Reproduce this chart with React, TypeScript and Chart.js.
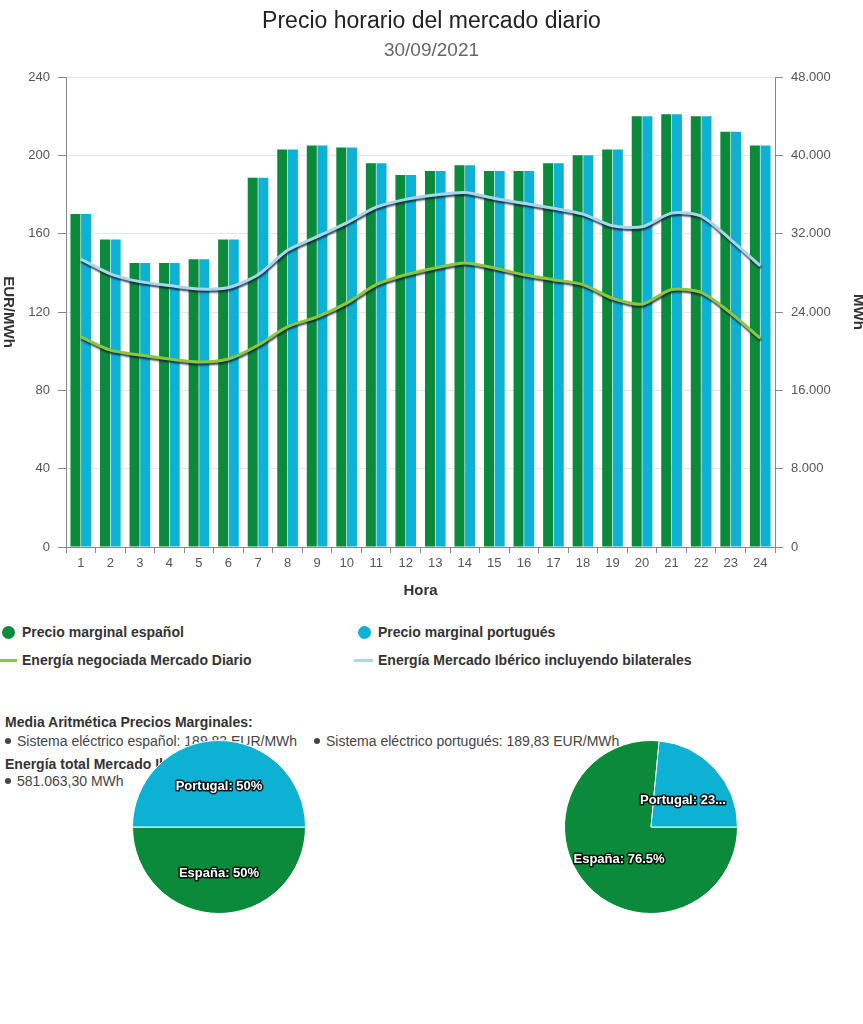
import React, { useEffect, useRef } from "react";
import { Chart, registerables } from "chart.js";

Chart.register(...registerables);

const FONT = "'Liberation Sans', Arial, Helvetica, sans-serif";

// ---- Data ----
const hours = ["1","2","3","4","5","6","7","8","9","10","11","12","13","14","15","16","17","18","19","20","21","22","23","24"];
const precioEspanol = [170, 157, 145, 145, 147, 157, 188.5, 203, 205, 204, 196, 190, 192, 195, 192, 192, 196, 200, 203, 220, 221, 220, 212, 205];
const precioPortugues = [170, 157, 145, 145, 147, 157, 188.5, 203, 205, 204, 196, 190, 192, 195, 192, 192, 196, 200, 203, 220, 221, 220, 212, 205];
const energiaDiario = [21450, 20100, 19600, 19200, 18900, 19200, 20600, 22500, 23500, 24900, 26800, 27800, 28500, 29000, 28500, 27800, 27300, 26800, 25400, 24800, 26300, 26000, 23900, 21300];
const energiaIberico = [29400, 27900, 27100, 26700, 26350, 26500, 27800, 30300, 31700, 33100, 34700, 35500, 35950, 36200, 35600, 35100, 34600, 34000, 32800, 32700, 34100, 33800, 31400, 28700];

const priceTicks = { min: 0, max: 240, step: 40 };
const energyTicks = { min: 0, max: 48000, step: 8000 };

const pieLabels = ["España", "Portugal"];
const piePrecios = [50, 50];
const pieEnergia = [76.5, 23.5];

const serieEsp = "Precio marginal español";
const seriePor = "Precio marginal portugués";
const serieDiario = "Energía negociada Mercado Diario";
const serieIberico = "Energía Mercado Ibérico incluyendo bilaterales";

const GREEN = "#0a8a3a";
const CYAN = "#0cb1d4";
const LIME = "#8dc63f";
const LIGHTBLUE = "#a9d7e6";

const fmtThousands = (v: number) => String(Math.round(v)).replace(/\B(?=(\d{3})+(?!\d))/g, ".");

const lineShadow = {
  id: "lineShadow",
  beforeDatasetDraw(chart: any, args: any) {
    const ds = chart.data.datasets[args.index];
    if (ds.type === "line") {
      const ctx = chart.ctx;
      ctx.save();
      ctx.shadowColor = "rgba(15,25,55,0.85)";
      ctx.shadowOffsetX = 0.5;
      ctx.shadowOffsetY = 2;
      ctx.shadowBlur = 2;
    }
  },
  afterDatasetDraw(chart: any, args: any) {
    const ds = chart.data.datasets[args.index];
    if (ds.type === "line") chart.ctx.restore();
  },
};

const axisTitles = {
  id: "axisTitles",
  afterDraw(chart: any) {
    const ctx = chart.ctx;
    const { top, bottom, left, right } = chart.chartArea;
    const midY = (top + bottom) / 2;
    ctx.save();
    ctx.fillStyle = "#333";
    ctx.font = `bold 15px ${FONT}`;
    ctx.textAlign = "center";
    ctx.textBaseline = "middle";
    ctx.save();
    ctx.translate(8, midY);
    ctx.rotate(Math.PI / 2);
    ctx.fillText("EUR/MWh", 0, 0);
    ctx.restore();
    ctx.save();
    ctx.translate(858, midY);
    ctx.rotate(Math.PI / 2);
    ctx.fillText("MWh", 0, 0);
    ctx.restore();
    ctx.fillText("Hora", (left + right) / 2, bottom + 44);
    ctx.restore();
  },
};

function fitText(ctx: CanvasRenderingContext2D, text: string, maxWidth: number) {
  if (ctx.measureText(text).width <= maxWidth) return text;
  let t = text;
  while (t.length > 1 && ctx.measureText(t + "...").width > maxWidth) t = t.slice(0, -1);
  t = t.replace(/[.\s]+$/, "");
  return t + "...";
}

const pieDataLabels = {
  id: "pieDataLabels",
  afterDatasetsDraw(chart: any) {
    const ctx = chart.ctx;
    const meta = chart.getDatasetMeta(0);
    const ds = chart.data.datasets[0];
    ctx.save();
    ctx.font = `bold 13px ${FONT}`;
    ctx.textAlign = "center";
    ctx.textBaseline = "middle";
    meta.data.forEach((arc: any, i: number) => {
      const p = arc.tooltipPosition();
      const text = fitText(ctx, `${chart.data.labels[i]}: ${ds.data[i]}%`, 93);
      ctx.lineJoin = "round";
      ctx.lineWidth = 3;
      ctx.strokeStyle = "rgba(0,0,0,0.85)";
      ctx.strokeText(text, p.x, p.y + 3);
      ctx.fillStyle = "#fff";
      ctx.fillText(text, p.x, p.y + 3);
    });
    ctx.restore();
  },
};

function PieChart({ values, cx, cy }: { values: number[]; cx: number; cy: number }) {
  const ref = useRef<HTMLCanvasElement>(null);
  useEffect(() => {
    if (!ref.current) return;
    const chart = new Chart(ref.current, {
      type: "pie",
      data: {
        labels: pieLabels,
        datasets: [
          {
            data: values,
            backgroundColor: [GREEN, CYAN],
            borderColor: "#ffffff",
            borderWidth: 1,
          },
        ],
      },
      options: {
        responsive: false,
        animation: false,
        rotation: 90,
        layout: { padding: 3 },
        plugins: { legend: { display: false }, tooltip: { enabled: false } },
      },
      plugins: [pieDataLabels],
    } as any);
    return () => chart.destroy();
  }, []);
  const size = 180;
  return (
    <canvas
      ref={ref}
      width={size}
      height={size}
      style={{ position: "absolute", left: cx - size / 2, top: cy - size / 2, width: size, height: size }}
    />
  );
}

const legendItems = [
  { label: serieEsp, color: GREEN, kind: "circle", x: 8, y: 632 },
  { label: seriePor, color: CYAN, kind: "circle", x: 364, y: 632 },
  { label: serieDiario, color: LIME, kind: "line", x: 8, y: 660 },
  { label: serieIberico, color: LIGHTBLUE, kind: "line", x: 364, y: 660 },
];

function Bullet() {
  return (
    <span
      style={{
        display: "inline-block",
        width: 6,
        height: 6,
        borderRadius: "50%",
        background: "#444",
        marginRight: 6,
        verticalAlign: "middle",
        position: "relative",
        top: -1,
      }}
    />
  );
}

export default function App() {
  const mainRef = useRef<HTMLCanvasElement>(null);

  useEffect(() => {
    if (!mainRef.current) return;
    const tickFont = { family: FONT, size: 13 };
    const chart = new Chart(mainRef.current, {
      type: "bar",
      data: {
        labels: hours,
        datasets: [
          {
            type: "line",
            label: serieDiario,
            data: energiaDiario,
            yAxisID: "y1",
            borderColor: LIME,
            borderWidth: 3,
            pointRadius: 0,
            tension: 0.25,
            order: 0,
          },
          {
            type: "line",
            label: serieIberico,
            data: energiaIberico,
            yAxisID: "y1",
            borderColor: LIGHTBLUE,
            borderWidth: 3,
            pointRadius: 0,
            tension: 0.25,
            order: 0,
          },
          {
            type: "bar",
            label: serieEsp,
            data: precioEspanol,
            yAxisID: "y",
            backgroundColor: GREEN,
            categoryPercentage: 0.72,
            barPercentage: 0.94,
            order: 1,
          },
          {
            type: "bar",
            label: seriePor,
            data: precioPortugues,
            yAxisID: "y",
            backgroundColor: CYAN,
            categoryPercentage: 0.72,
            barPercentage: 0.94,
            order: 1,
          },
        ],
      },
      options: {
        responsive: false,
        animation: false,
        layout: { padding: { top: 0, left: 0, right: 0, bottom: 0 } },
        plugins: {
          legend: { display: false },
          tooltip: { enabled: false },
          title: {
            display: true,
            text: "Precio horario del mercado diario",
            color: "#222",
            font: { family: FONT, size: 23, weight: "normal" },
            padding: { top: 8, bottom: 2 },
          },
          subtitle: {
            display: true,
            text: "30/09/2021",
            color: "#666",
            font: { family: FONT, size: 19, weight: "normal" },
            padding: { top: 2, bottom: 14.6 },
          },
        },
        scales: {
          x: {
            grid: { offset: true, drawOnChartArea: false, tickLength: 6, tickColor: "#888" },
            border: { display: true, color: "#888" },
            ticks: { font: tickFont, color: "#555", padding: 3, maxRotation: 0, autoSkip: false },
            afterFit: (s: any) => {
              s.height = 63;
            },
          },
          y: {
            position: "left",
            min: priceTicks.min,
            max: priceTicks.max,
            ticks: { stepSize: priceTicks.step, font: tickFont, color: "#555", padding: 8 },
            grid: { color: "#e6e6e6", tickColor: "#888", tickLength: 8 },
            border: { display: true, color: "#888" },
            afterFit: (s: any) => {
              s.width = 66;
            },
          },
          y1: {
            position: "right",
            min: energyTicks.min,
            max: energyTicks.max,
            ticks: {
              stepSize: energyTicks.step,
              font: tickFont,
              color: "#555",
              padding: 8,
              callback: (v: any) => fmtThousands(Number(v)),
            },
            grid: { drawOnChartArea: false, tickColor: "#888", tickLength: 8 },
            border: { display: true, color: "#888" },
            afterFit: (s: any) => {
              s.width = 88;
            },
          },
        },
      },
      plugins: [lineShadow, axisTitles],
    } as any);
    return () => chart.destroy();
  }, []);

  const textStyle: React.CSSProperties = {
    position: "absolute",
    fontSize: 14,
    lineHeight: "18px",
    color: "#444",
    whiteSpace: "nowrap",
  };

  return (
    <div
      style={{
        position: "absolute",
        left: 0,
        top: 0,
        width: 863,
        height: 1024,
        background: "#fff",
        fontFamily: FONT,
        overflow: "hidden",
      }}
    >
      <canvas ref={mainRef} width={863} height={610} style={{ position: "absolute", left: 0, top: 0, width: 863, height: 610 }} />

      {legendItems.map((it) => (
        <div key={it.label} style={{ position: "absolute", left: 0, top: it.y - 9, height: 18 }}>
          {it.kind === "circle" ? (
            <span
              style={{
                position: "absolute",
                left: it.x - 6.5,
                top: 2.5,
                width: 13,
                height: 13,
                borderRadius: "50%",
                background: it.color,
              }}
            />
          ) : (
            <span
              style={{
                position: "absolute",
                left: it.x - 10,
                top: 7.5,
                width: 19,
                height: 3,
                background: it.color,
              }}
            />
          )}
          <span
            style={{
              position: "absolute",
              left: it.x + 14,
              top: 0,
              fontSize: 14,
              lineHeight: "18px",
              fontWeight: "bold",
              color: "#333",
              whiteSpace: "nowrap",
            }}
          >
            {it.label}
          </span>
        </div>
      ))}

      <div style={{ ...textStyle, left: 5, top: 713, fontWeight: "bold", color: "#333" }}>
        Media Aritmética Precios Marginales:
      </div>
      <div style={{ ...textStyle, left: 5, top: 732 }}>
        <Bullet />Sistema eléctrico español: 189,83 EUR/MWh
      </div>
      <div style={{ ...textStyle, left: 314, top: 732 }}>
        <Bullet />Sistema eléctrico portugués: 189,83 EUR/MWh
      </div>
      <div style={{ ...textStyle, left: 5, top: 755, fontWeight: "bold", color: "#333" }}>
        Energía total Mercado Ibérico:
      </div>
      <div style={{ ...textStyle, left: 5, top: 772 }}>
        <Bullet />581.063,30 MWh
      </div>

      <PieChart values={piePrecios} cx={219} cy={827} />
      <PieChart values={pieEnergia} cx={651} cy={827} />
    </div>
  );
}
